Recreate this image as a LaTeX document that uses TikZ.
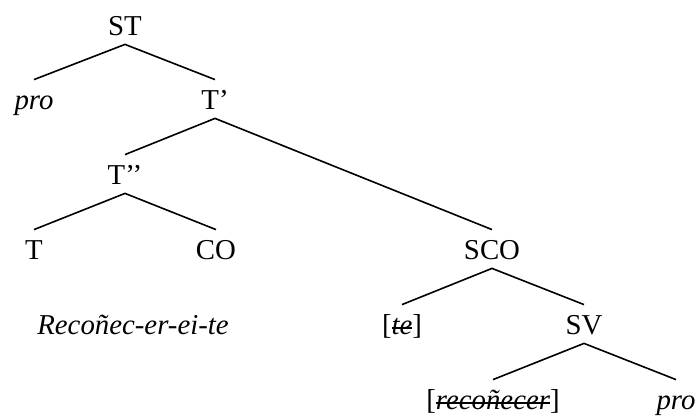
\documentclass[tikz,border=0pt]{standalone}
\usepackage{fontspec}
\setmainfont{Liberation Serif}

% strike-through for deleted copies
\newsavebox{\tachbox}
\newcommand{\tachado}[1]{\sbox{\tachbox}{#1}\rlap{\rule[0.45ex]{\wd\tachbox}{1.1pt}}\usebox{\tachbox}}

\begin{document}
\begin{tikzpicture}[x=0.5pt,y=0.5pt,yscale=-1,xscale=1,
  cat/.style={anchor=base,inner sep=0pt,text height=15pt,text depth=4pt,font=\fontsize{14.4}{17}\selectfont},
  rama/.style={line width=0.8pt}]
\useasboundingbox (0,0) rectangle (696,416);

% Text Node
\node [cat] (ST) at (125,36) {ST};
% Text Node
\node [cat] (pro1) at (34,110) {\itshape pro};
% Text Node
\node [cat] (Tp) at (215,110) {T'};
% Text Node
\node [cat] (Tpp) at (125,185) {T'{}'};
% Text Node
\node [cat] (T) at (34,260) {T};
% Text Node
\node [cat] (CO) at (216,260) {CO};
% Text Node
\node [cat] (SCO) at (492,260) {SCO};
% Text Node
\node [cat] (verbo) at (133,335) {\itshape Recoñec-er-ei-te};
% Text Node
\node [cat] (cl) at (402,335) {[\tachado{\itshape te}]};
% Text Node
\node [cat] (SV) at (584,335) {SV};
% Text Node
\node [cat] (V) at (493,410) {[\tachado{\itshape recoñecer}]};
% Text Node
\node [cat] (pro2) at (676,410) {\itshape pro};

%Straight Lines
\draw [rama] (pro1.north) -- (ST.south) -- (Tp.north) ;
%Straight Lines
\draw [rama] (Tpp.north) -- (Tp.south) -- (SCO.north) ;
%Straight Lines
\draw [rama] (T.north) -- (Tpp.south) -- (CO.north) ;
%Straight Lines
\draw [rama] (cl.north) -- (SCO.south) -- (SV.north) ;
%Straight Lines
\draw [rama] (V.north) -- (SV.south) -- (pro2.north) ;

\end{tikzpicture}
\end{document}
